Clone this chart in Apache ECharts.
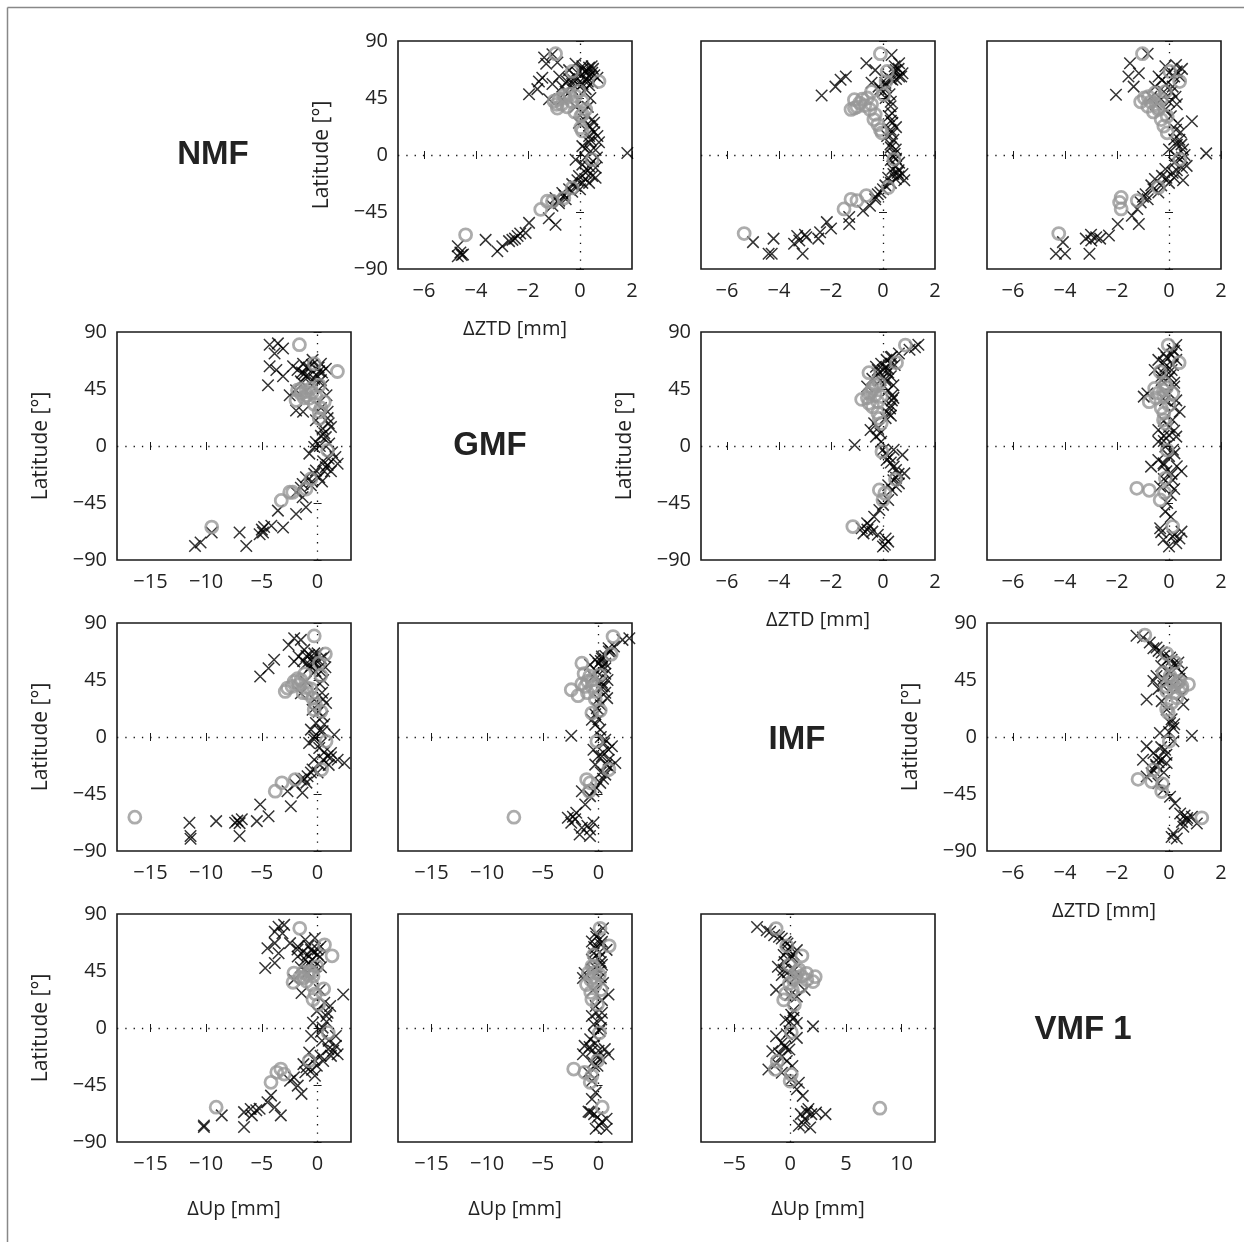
<!DOCTYPE html>
<html><head><meta charset="utf-8">
<script src="https://cdn.jsdelivr.net/npm/echarts@6/dist/echarts.min.js"></script>
<style>html,body{margin:0;padding:0;background:#fff}#c{width:1244px;height:1242px}</style>
</head><body><div id="c"></div>
<script>
// ---------- labels / ticks ----------
const mappingFunctions = ['NMF', 'GMF', 'IMF', 'VMF 1'];
const latTicks = [-90, -45, 0, 45, 90];
const ztdTicks = [-6, -4, -2, 0, 2];
const upTicks = [-15, -10, -5, 0];
const upTicksVMF = [-5, 0, 5, 10];

// ---------- data: [difference (mm), latitude (deg)] ----------
// ZTD NMF - GMF
const ztd_NMF_GMF_x = [[-1.06,79.5],[-1.38,77],[-0.87,73],[-1.3,72],[-1.45,61],[-1.58,58],[-1.64,52],[-1.96,48],[-1.06,56],[-0.68,54],[-0.42,67],[-0.17,72],[0.09,70],[0.35,69],[0.47,65],[0.22,60],[-0.04,57],[-0.3,56],[-0.55,50],[0.22,52],[0.47,57],[0.67,61],[-1.19,44],[0.09,33],[0.54,25.5],[0.47,20],[0.35,15],[0.67,15],[0.73,10],[0.35,10],[0.09,7],[0.41,3],[1.82,1.6],[-0.17,-3.7],[0.09,-7.6],[0.35,-9],[0.6,-10],[0.22,-14],[-0.04,-16.6],[0.47,-16.6],[0.09,-22],[-0.17,-24.6],[0.35,-22],[-0.42,-27],[-0.68,-30],[-0.94,-34],[-0.55,-35],[-1.06,-40],[-0.81,-38],[-0.94,-55],[-1.2,-50],[-1.96,-53.6],[-2.09,-61.5],[-2.4,-64],[-2.6,-67],[-2.73,-68],[-2.99,-72],[-3.18,-76],[-3.63,-67],[-4.7,-72],[-4.6,-77],[-4.5,-78.6],[-4.7,-80],[-0.42,60],[-0.17,62],[0.09,64],[0.35,62],[-0.3,52],[-0.68,44],[-0.17,38],[0.15,28],[-0.04,25.5],[0.35,23],[0.47,28],[0.2,66],[0.3,58],[0.0,54],[0.5,68],[0.6,4],[0.2,-2],[0.5,-5],[-0.3,-29],[-0.6,-32],
  [0.1,68],[0.3,66],[0.45,70],[0.55,63],[-0.1,65],[-0.25,59],[0.1,56],[0.35,55],[-0.5,58],[-0.8,62],[0.4,45],[0.3,38],[0.55,18],[0.4,12],[0.2,5],[0.65,-2],[0.3,-12],[0.6,-18],[0.2,-19],[-0.1,-20],[-0.3,-23],[0.0,-27],[-0.8,-36],[-2.5,-66],[-2.3,-62],[-4.55,-79]];
const ztd_NMF_GMF_o = [[-0.94,80],[-0.3,66],[0.73,58],[-0.55,45],[-0.81,44],[-1.0,42.5],[-0.87,37],[-0.17,46.5],[-0.04,50.5],[0.09,42.6],[0.22,36],[0.03,30.7],[0.03,21.5],[0.09,19],[0.47,-3.7],[-0.3,-26],[-0.62,-34],[-1.06,-36.5],[-1.26,-36.5],[-1.51,-43],[-4.4,-63],
  [-0.7,40],[-0.5,38],[-0.3,42],[-0.6,47],[-0.2,34],[0.1,32],[-0.4,48],[-0.9,40]];
// ZTD NMF - IMF
const ztd_NMF_IMF_x = [[0.33,79],[0.62,72.5],[0.49,67],[0.75,64.6],[0.62,62],[0.36,59.4],[0.09,57],[-0.17,54],[-0.44,57],[-0.64,72.5],[-0.3,67],[-1.43,62],[-1.63,59.4],[-1.83,54],[-2.36,47],[0.29,38.5],[0.23,30.6],[0.36,25.4],[0.29,20],[0.16,15],[0.29,8.4],[0.49,4.4],[0.36,-0.8],[0.62,-6],[0.36,-11],[0.56,-14],[0.82,-20],[0.49,-19],[0.09,-24],[-0.1,-29.6],[-0.3,-35],[-0.5,-40],[-0.77,-44],[-1.3,-49],[-1.3,-54.4],[-2.16,-53],[-2.49,-66],[-2.42,-61],[-2.95,-65],[-3.22,-67.5],[-3.42,-70],[-3.09,-78],[-4.21,-66],[-5.0,-68.8],[-4.28,-78],[-4.4,-78],[0.4,66],[0.5,60],[0.2,62],[0.0,50],[0.1,45],[0.3,42],[0.35,33],[0.4,12],[0.3,6],[0.5,-3],[0.5,-9],[0.6,-17],[0.3,-22],[0.0,-27],[-0.2,-31],
  [0.45,70],[0.6,68],[0.7,62],[0.3,60],[0.1,55],[-0.1,52],[0.25,48],[0.3,27],[0.5,22],[0.35,17],[0.45,1],[0.3,-4],[0.6,-12],[0.75,-15],[0.4,-15],[0.2,-18],[-0.3,-33],[-3.3,-64],[-3.0,-63],[-2.0,-58]];
const ztd_NMF_IMF_o = [[-0.1,80],[0.16,66],[0.12,58],[-0.44,50],[0.03,47.6],[-1.1,43.7],[-1.1,37],[-1.23,36],[-0.44,40],[-0.3,32],[-0.1,20],[-0.04,17.5],[0.42,-3.4],[0.2,-25.6],[-0.64,-32],[-1.0,-36],[-1.23,-35],[-1.5,-42.6],[-5.34,-62],
  [-0.9,41],[-0.7,39],[-0.8,44],[-0.5,36],[-0.6,45],[-1.0,38],[-0.35,28],[-0.2,24]];
// ZTD NMF - VMF1
const ztd_NMF_VMF_x = [[-0.82,80],[-1.5,72.5],[-1.16,64.6],[-1.56,62],[-1.36,54],[-2.04,47.6],[-0.14,70],[0.27,71],[0.41,62],[0.14,54],[-0.27,59],[-0.54,54],[-0.68,46],[-0.14,36],[0.07,30.6],[0.34,25],[0.88,26.7],[0.27,20],[0.2,12.3],[0.48,8.4],[0,4.4],[0.54,4.4],[1.43,1.3],[0.27,-0.8],[0.68,-8.6],[-0.14,-11],[0.14,-14],[0.54,-20],[-0.27,-16.5],[-0.54,-19],[-0.68,-24],[-0.41,-29.6],[-0.82,-35],[-1.09,-37.4],[-1.22,-42.6],[-1.43,-48],[-1.16,-54.4],[-1.97,-54.4],[-2.31,-63.6],[-2.65,-66],[-2.99,-67.5],[-3.2,-66],[-3.06,-78],[-4.0,-78],[-4.35,-78],[-4.08,-68.8],[0.2,62],[-0.1,56],[0.1,50],[-0.3,44],[0.3,40],[0.4,12],[0.5,-2],[0.3,-12],[0.0,-22],[-0.6,-27],[-0.9,-31],
  [0.0,65],[0.3,66],[0.5,68],[-0.4,62],[-0.2,50],[0.25,46],[-0.5,40],[0.0,42],[0.45,18],[0.3,8],[0.6,0],[0.2,-6],[0.5,-10],[-0.1,-18],[-0.3,-24],[0.2,-18],[-1.0,-33],[-2.8,-65],[-3.0,-63]];
const ztd_NMF_VMF_o = [[-1.02,80],[0.03,66],[0.41,58],[-0.14,50],[-0.54,49],[-0.95,45],[-1.09,42],[-0.82,38.5],[-0.41,36],[-0.07,30.6],[-0.2,22.8],[-0.07,17.5],[0.41,-3.4],[-0.41,-25.6],[-1.22,-36],[-1.84,-33.5],[-1.9,-37.4],[-1.84,-42.6],[-4.24,-62],
  [-0.7,42],[-0.5,40],[-0.8,46],[-0.3,44],[-0.6,34],[-0.3,28],[-0.45,38]];
// ZTD GMF - IMF
const ztd_GMF_IMF_x = [[1.23,78],[1.36,80],[1.02,76],[0.61,73],[0.34,70.5],[0.14,68],[-0.07,65],[-0.27,62.6],[0.2,61],[-0.2,57],[-0.41,53],[0.14,50.8],[-0.61,47],[0.2,44],[0.34,36],[0.27,29.7],[0.2,25.8],[-0.34,18],[-0.48,12.6],[-0.27,7.4],[-0.07,3.4],[-1.09,0.8],[0.41,-3],[0.75,-7],[0.14,-11],[0.41,-16.3],[0.82,-21.6],[0.61,-29.5],[0.34,-34.7],[0.2,-42.6],[0,-46.5],[-0.14,-50.5],[-0.34,-55.8],[-0.61,-61],[-0.82,-65],[-0.75,-69],[-0.41,-67.6],[0.07,-78],[0,-79.4],[0.2,-75.5],[0.3,70],[0.0,60],[0.3,55],[-0.1,52],[0.4,48],[0.3,32],[0.1,22],[0.1,-6],[0.3,-13],[0.5,-25],[0.2,-31],
  [0.3,65],[0.1,62],[0.45,64],[-0.2,60],[0.2,58],[0.1,53],[0.35,40],[0.4,38],[0.3,24],[-0.2,14],[-0.1,10],[0.0,-3],[0.25,-9],[0.5,-19],[0.6,-22],[0.4,-27],[0.5,-32],[-0.5,-63],[-0.6,-66],[-0.2,-70],[0.1,-73]];
const ztd_GMF_IMF_o = [[0.86,79.7],[0.52,65.8],[-0.54,57.9],[-0.14,49.4],[-0.41,44],[-0.54,41.5],[-0.82,36.8],[-0.54,33.7],[-0.07,39],[-0.14,21.8],[-0.07,17.9],[-0.04,-4.5],[0.48,-26.3],[-0.14,-34.7],[0.07,-37.3],[0,-42.6],[-1.16,-63.6],
  [-0.4,46],[-0.3,40],[-0.6,38],[-0.2,35],[-0.4,31],[-0.3,48],[-0.2,26]];
// ZTD GMF - VMF1
const ztd_GMF_VMF_x = [[0.28,79.7],[0.14,75.7],[-0.21,73],[-0.41,68],[0.28,68],[-0.14,62.6],[-0.55,60],[0.07,56],[-0.28,52],[-0.83,41.5],[-0.97,39],[0.28,36],[0.41,27],[0.14,20.5],[-0.41,12.6],[0,8.7],[0.28,7.4],[-0.41,3.4],[-0.14,-0.5],[0.21,-5.8],[-0.41,-11],[-0.69,-16.3],[-0.21,-13.7],[0.48,-20],[0.14,-26.8],[-0.34,-32],[0.07,-38.7],[-0.07,-45],[-0.14,-51.8],[0.07,-55.8],[-0.34,-65],[0.48,-67.6],[0.14,-71.5],[0.28,-76.8],[0,-79.4],[-0.21,-74],[0.1,72],[-0.2,66],[0.1,60],[-0.3,55],[0.2,47],[-0.1,40],[0.0,15],[-0.2,4],[0.0,-8],[-0.1,-20],[0.0,-30],
  [0.2,75],[-0.1,70],[0.15,64],[-0.25,58],[0.0,54],[0.2,50],[-0.15,36],[0.2,30],[-0.2,20],[0.2,12],[-0.2,8],[0.15,-3],[-0.2,-15],[0.3,-16],[0.1,-22],[-0.2,-26],[0.2,-34],[-0.3,-68],[0.2,-70],[0.4,-73]];
const ztd_GMF_VMF_o = [[-0.03,79.7],[0.39,65.8],[-0.34,58.6],[-0.14,49.4],[-0.55,45.5],[-0.21,44],[0.14,41.5],[-0.76,35],[0,32.3],[-0.21,20.5],[-0.14,17.9],[-0.07,-3.2],[-0.14,-25.5],[-1.24,-33.4],[-0.76,-35],[-0.17,-36.8],[-0.34,-42.6],[0.14,-63.6],
  [-0.4,42],[-0.2,39],[-0.5,38],[-0.1,46],[-0.3,30],[-0.2,26]];
// ZTD IMF - VMF1
const ztd_IMF_VMF_x = [[-1.25,80],[-1.0,78.6],[-0.74,74.6],[-0.48,70.7],[-0.28,66.7],[0.04,62.7],[0.36,58.8],[0.49,50.8],[-0.48,48.2],[-0.6,44.2],[-0.22,40.2],[-0.86,29.6],[-0.28,28.3],[0.55,25.7],[-0.09,21.7],[0.04,11.1],[0.17,7.1],[-0.35,3.2],[0.88,1],[0.17,-3.4],[-0.15,-10],[-0.86,-7.4],[-0.6,-12.7],[-1.0,-18],[-0.41,-16.7],[-0.09,-20.6],[-0.48,-23.3],[-0.67,-28.6],[-0.86,-31.2],[-0.41,-36.5],[-0.22,-41.8],[0.04,-47.1],[0.23,-52.4],[0.43,-60.4],[0.68,-65.6],[0.55,-70.9],[1.07,-68.3],[0.88,-63],[0.17,-76.2],[0.3,-80.2],[0.1,-78.9],[-0.4,68],[-0.1,60],[0.3,55],[-0.2,46],[0.3,38],[0.1,14],[-0.3,-8],[-0.4,-20],[-0.6,-26],
  [-0.6,70],[-0.2,64],[0.1,61],[0.2,58],[-0.3,56],[0.0,52],[0.4,46],[-0.1,44],[-0.4,38],[0.5,33],[0.2,10],[0.0,4],[-0.1,-14],[-0.3,-18],[-0.5,-22],[-0.2,-28],[0.6,-62],[0.7,-64],[0.5,-67]];
const ztd_IMF_VMF_o = [[-0.93,80.5],[-0.09,65.9],[0.23,58.8],[-0.22,50.8],[0.04,48.2],[0.3,42.9],[0.75,41.6],[0.49,37.6],[-0.09,36.3],[0.3,31],[-0.09,21.7],[-0.03,19.1],[0.01,-3.4],[-0.6,-25.9],[-1.19,-33.4],[-0.67,-35.2],[-0.25,-37],[-0.28,-43.1],[1.26,-63.8],
  [0.1,45],[0.2,40],[0.4,44],[-0.1,40],[0.2,35],[0.5,40],[0.1,27]];
// Up NMF - GMF
const up_NMF_GMF_x = [[-4.3,80],[-3.56,81],[-3.1,77],[-3.86,73],[-4.3,63],[-3.7,60],[-4.45,48],[-3.1,55],[-2.2,63],[-1.8,60],[-1.3,65],[-0.45,68],[0.3,65],[0.74,61],[0.15,59],[-1.04,55],[-1.5,51],[-1.93,44],[-2.5,40],[-1.93,28],[-1.3,27],[0.9,27],[-0.15,20.4],[1.2,15],[0.45,13.8],[0.74,7],[-0.15,3.2],[1.04,2],[-0.3,-0.8],[-0.74,-6],[1.6,-8.7],[1.8,-14],[0.74,-16.7],[-0.15,-19.3],[0.15,-24.6],[-1.04,-24.6],[-1.34,-30],[-1.93,-36.5],[-1.34,-40.5],[-1.04,-48.4],[-1.93,-53.7],[-3.56,-51],[-3.1,-64.3],[-4.15,-63],[-4.9,-68.3],[-5.2,-69.6],[-7.0,-68.3],[-6.4,-78.9],[-9.5,-68.3],[-10.5,-76.2],[-11.0,-78.9],[-0.8,62],[0.4,58],[-0.3,53],[0.5,48],[-1.4,58],[0.9,22],[0.5,-12],[1.2,-20],[0.4,-28],[-0.6,-31],[1.0,-10],[0.3,8],
  [-1.0,62],[-0.5,64],[0.1,62],[-1.2,57],[-0.8,55],[-0.1,56],[0.3,52],[-0.5,48],[0.8,40],[0.3,30],[1.0,18],[0.6,10],[0.2,0],[1.3,-5],[0.9,-15],[0.6,-20],[-0.3,-22],[-0.5,-28],[-1.5,-33],[-5.0,-66],[-4.8,-64]];
const up_NMF_GMF_o = [[-1.63,80],[-0.3,65],[1.78,58.8],[0.15,48],[-0.6,45.5],[-1.04,43],[-1.5,41.5],[-1.93,36],[-0.74,37.6],[-0.15,39],[0.6,35],[0.15,27],[0.15,21.7],[0.9,-3.4],[-0.6,-26],[-1.04,-34],[-2.23,-36.5],[-2.5,-36.5],[-3.26,-43],[-9.5,-64],
  [-1.5,45],[-1.0,40],[-0.5,42],[-1.8,44],[-0.3,33],[-1.2,38],[0.3,30]];
// Up NMF - IMF
const up_NMF_IMF_x = [[-2.1,78],[-1.5,76.7],[-2.6,72.7],[-1.2,68.8],[-1.7,63.5],[-2.1,59.6],[-3.9,61],[-4.4,54.3],[-5.15,47.8],[-0.76,64.8],[0,66],[0.6,63.5],[-0.3,58.3],[-0.76,54.3],[0.3,51.7],[-1.06,43.8],[-1.5,34.6],[-0.3,29.4],[0.76,26.8],[-0.45,21.5],[0.45,16.3],[-0.15,11],[-0.6,5.8],[0.45,4.5],[-0.3,0.5],[1.5,1.8],[-0.76,-4.7],[0.15,-8.7],[1.2,-12.6],[0.9,-15.2],[1.8,-17.9],[2.4,-20.5],[-0.3,-17.9],[-0.45,-25.7],[-0.9,-31],[-1.5,-33.6],[-2.0,-37.5],[-2.7,-42.8],[-1.36,-44],[-2.4,-54.6],[-5.15,-53.3],[-4.4,-62.5],[-5.45,-66.4],[-6.8,-65],[-7.4,-67.7],[-7.0,-78.2],[-9.1,-66.4],[-11.5,-67.7],[-11.4,-78.2],[-11.4,-80.3],[-0.5,60],[0.2,55],[-1.0,58],[0.5,45],[0.4,35],[0.6,10],[0.3,-5],[1.0,-22],[0.0,-28],[-1.0,-36],
  [-1.0,64],[-0.3,66],[0.3,62],[-0.2,61],[-1.3,60],[-0.6,56],[-0.2,52],[0.7,55],[0.2,42],[0.5,30],[0.1,20],[0.2,5],[-0.3,-2],[0.6,-12],[0.5,-18],[1.2,-16],[0.2,-22],[-0.6,-28],[-1.2,-33],[-7.2,-66],[-7.0,-68]];
const up_NMF_IMF_o = [[-0.3,79.8],[0.7,65.6],[0.15,58.3],[0.3,48.6],[-1.15,49.9],[-2.1,43.8],[-2.7,38.6],[-2.9,36],[-1.67,41.2],[-0.9,34.6],[-0.45,30.7],[-0.3,21.5],[0.3,20.2],[0.76,-3.4],[0.36,-25.7],[-2.0,-33.6],[-3.2,-36.2],[-3.8,-42.8],[-16.4,-63.3],
  [-1.5,45],[-2.3,40],[-1.0,39],[-1.8,46],[-0.6,38],[-1.3,35],[-0.2,26]];
// Up GMF - IMF
const up_GMF_IMF_x = [[2.76,78],[2.15,76.7],[1.38,71.4],[0.92,67.5],[0.3,63.5],[-0.3,61],[-0.77,57],[0.6,54.3],[-0.46,47.8],[0.3,39.9],[0.77,30.7],[-0.15,22.8],[-0.6,13.6],[-0.3,9.7],[0.15,5.8],[-2.45,1],[0.6,-2.1],[1.2,-7.3],[-0.46,-10],[0.3,-15.2],[1.5,-20.5],[-0.3,-21.8],[0.6,-29.7],[0.15,-36.2],[-0.46,-42.8],[-0.77,-46.7],[-1.5,-42.8],[-1.2,-53.3],[-2.0,-59.8],[-2.76,-63.8],[-2.45,-67.7],[-1.5,-71.7],[-1.7,-76.9],[-0.77,-78.2],[-0.77,-73],[-0.46,-67.7],[0.9,70],[0.2,60],[0.6,58],[-0.2,52],[0.8,45],[0.6,35],[0.2,25],[0.5,-5],[0.4,-12],[1.0,-24],[0.4,-33],
  [1.1,68],[0.6,64],[0.3,62],[0.0,58],[0.3,55],[0.6,50],[0.3,43],[0.5,40],[0.0,30],[-0.3,18],[0.0,14],[0.2,0],[0.9,-10],[0.0,-15],[0.9,-18],[0.7,-22],[0.2,-28],[-0.2,-40],[-2.3,-63],[-2.1,-65],[-1.0,-70]];
const up_GMF_IMF_o = [[1.3,79.3],[1.13,65.4],[-1.5,58.3],[0.1,49.1],[-0.6,45.2],[-1.2,39.9],[-2.45,37.3],[-1.84,32.6],[-0.3,36],[-0.6,18.9],[0.15,21],[-0.15,-3.4],[0.92,-25.7],[-1.07,-33.6],[-0.77,-36.2],[-0.83,-42.8],[-7.6,-63.3],
  [-1.0,44],[-0.6,40],[-1.5,42],[-0.8,48],[-1.0,35],[-0.3,30],[-1.3,50]];
// Up NMF - VMF1
const up_NMF_VMF_x = [[-3.5,80],[-3.0,81.4],[-3.84,76],[-3.15,74.8],[-3.84,67],[-4.5,63],[-3.5,59],[-4.7,47.4],[-3.84,51.3],[-2.47,67],[-1.78,64.4],[-1.1,69.6],[-0.24,71],[0.27,64.4],[-0.58,61.7],[-1.78,56.5],[-1.1,54],[-0.24,48.7],[-2.12,38.2],[-1.44,27.7],[2.3,26.4],[1.13,17.3],[-0.07,13.3],[0.79,9.4],[-0.41,4.2],[0.45,0.3],[-0.58,-6.3],[1.64,-6.3],[1.64,-14.1],[0.96,-16.7],[1.8,-20.7],[0.27,-22],[-0.75,-19.4],[-1.27,-28.5],[-0.07,-29.8],[-0.24,-37.7],[-1.1,-35],[-2.12,-39],[-1.78,-45.5],[-1.44,-52],[-2.47,-41.6],[-4.18,-53.4],[-4.5,-58.6],[-5.2,-63.8],[-5.9,-69],[-6.6,-66.4],[-6.6,-78.2],[-3.3,-69],[-3.84,-62.5],[-8.6,-69],[-10.2,-78.2],[-10.2,-77],[-1.3,60],[0.0,58],[-0.5,54],[-1.5,48],[0.9,12],[0.4,-10],[1.2,-22],[-0.3,-25],[-1.0,-31],
  [-1.8,62],[-0.8,65],[0.0,62],[-0.9,58],[-0.4,60],[0.2,56],[-0.8,51],[0.3,48],[-0.9,44],[0.2,30],[0.6,20],[0.8,5],[0.3,-3],[1.0,-10],[1.4,-18],[0.5,-26],[-0.5,-33],[-5.5,-65],[-6.0,-64]];
const up_NMF_VMF_o = [[-1.6,78.7],[0.62,65.7],[1.3,57],[-0.07,48.7],[-0.75,44.7],[-2.12,43.4],[-2.2,36.1],[-1.27,39.5],[-0.41,40.8],[0.55,30.9],[-0.41,22.5],[0.1,18.6],[0.96,-3.7],[-0.75,-25.9],[-3.3,-32.4],[-3.0,-36.4],[-3.66,-35],[-4.18,-42.9],[-9.1,-62.5],
  [-1.3,44],[-0.9,42],[-1.6,40],[-0.5,44],[-1.0,37],[-0.5,34],[-0.2,27]];
// Up GMF - VMF1
const up_GMF_VMF_x = [[0.4,78.7],[-0.26,74.8],[-0.6,68.3],[0.23,65.7],[0.72,61.7],[-0.43,59],[0.07,55.2],[-1.25,43.4],[-1.4,39.5],[0.4,35.6],[0.89,26.4],[-0.26,17.3],[-0.6,9.4],[0.23,6.8],[-0.43,2.9],[0.07,-2.4],[-0.75,-8.9],[-1.25,-14.1],[-0.6,-18],[0.56,-16.7],[0.89,-20.7],[-1.4,-20.7],[-0.1,-29.8],[-0.92,-35],[-0.6,-41.6],[-0.26,-50.8],[-0.6,-56],[-0.75,-66.4],[-0.1,-70.4],[0.72,-71.7],[0.07,-76.9],[0.72,-79.5],[-0.26,-79.5],[0.1,70],[-0.3,63],[0.3,50],[-0.5,46],[0.2,40],[0.3,12],[-0.3,-12],[0.2,-24],[-0.4,-30],
  [-0.2,72],[0.3,68],[-0.4,64],[0.1,60],[-0.6,54],[0.2,52],[-0.3,48],[0.1,45],[-0.5,30],[0.3,22],[-0.2,12],[0.2,0],[-0.4,-6],[-0.8,-15],[0.0,-18],[-0.2,-22],[-0.5,-27],[-0.9,-66],[-0.4,-68],[0.3,-74]];
const up_GMF_VMF_o = [[0.13,78.7],[0.95,64.9],[-0.43,57.8],[-0.6,48.7],[-0.92,43.4],[0.07,42.1],[-1.08,34.3],[0.23,30.3],[-0.6,22.5],[-0.1,18.6],[0.07,-3.7],[-0.1,-25.9],[-2.23,-32.4],[-1.25,-35],[-0.6,-37.7],[-0.75,-42.9],[0.33,-62.5],
  [-0.5,40],[-0.3,44],[-0.7,38],[-0.4,48],[-0.3,34],[-0.7,28]];
// Up IMF - VMF1
const up_IMF_VMF_x = [[-2.97,79.8],[-2.1,77.2],[-1.43,73.2],[-0.75,70.6],[-0.24,66.7],[0.6,61.5],[-0.58,57.6],[0.1,54.9],[-1.1,48.4],[-0.75,41.9],[-1.26,30.1],[1.3,30.1],[0.6,24.9],[0.1,10.5],[-0.41,6.5],[0.6,3.9],[2.05,1.3],[-0.07,-2.6],[0.6,-7.8],[-1.26,-6.5],[-0.75,-11.8],[-1.6,-18.3],[-0.07,-17],[-0.75,-22.2],[-1.95,-32.7],[-0.75,-35.3],[0.1,-40.5],[0.78,-43.2],[0.6,-48.4],[1.13,-53.6],[1.64,-64],[2.32,-66.7],[3.17,-68],[0.96,-68],[1.3,-71.9],[0.78,-77.2],[1.8,-78.5],[-0.2,62],[0.3,58],[-0.5,52],[0.4,46],[-0.3,38],[0.3,8],[-0.5,-14],[-0.3,-26],[0.2,-30],
  [-1.8,76],[-1.0,72],[-0.4,68],[0.0,64],[-0.3,60],[0.2,56],[-0.6,46],[-0.2,44],[0.5,40],[0.0,26],[0.3,14],[0.0,5],[-0.3,-5],[-0.4,-16],[-1.0,-20],[-1.2,-28],[1.5,-66],[1.9,-68],[1.2,-76]];
const up_IMF_VMF_o = [[-1.26,78.5],[-0.3,64.9],[1.06,57],[-0.07,49.7],[0.6,44.5],[1.47,43.2],[2.25,40.5],[2.05,36.6],[0.96,32.7],[-0.07,35.3],[-0.58,22.2],[0.38,18.3],[0.1,-3.4],[-1.16,-26.2],[-1.33,-32.7],[0.1,-36.6],[0,-41.9],[8.05,-63.3],
  [0.5,40],[1.0,41],[0.3,38],[1.5,38],[0.8,46],[0.2,30],[-0.4,27]];

// ---------- layout ----------
const colLeft = [117, 398, 701, 987];
const rowTop = [41, 332, 623, 914];
const W = 234, H = 228;
const FONT = '"Open Sans", "DejaVu Sans", sans-serif';

const panels = [
  {r:0, c:1, kind:'ztd', x:ztd_NMF_GMF_x, o:ztd_NMF_GMF_o, ylab:true, xname:'ΔZTD [mm]'},
  {r:0, c:2, kind:'ztd', x:ztd_NMF_IMF_x, o:ztd_NMF_IMF_o, ylab:false, xname:''},
  {r:0, c:3, kind:'ztd', x:ztd_NMF_VMF_x, o:ztd_NMF_VMF_o, ylab:false, xname:''},
  {r:1, c:0, kind:'up',  x:up_NMF_GMF_x, o:up_NMF_GMF_o, ylab:true, xname:''},
  {r:1, c:2, kind:'ztd', x:ztd_GMF_IMF_x, o:ztd_GMF_IMF_o, ylab:true, xname:'ΔZTD [mm]'},
  {r:1, c:3, kind:'ztd', x:ztd_GMF_VMF_x, o:ztd_GMF_VMF_o, ylab:false, xname:''},
  {r:2, c:0, kind:'up',  x:up_NMF_IMF_x, o:up_NMF_IMF_o, ylab:true, xname:''},
  {r:2, c:1, kind:'up',  x:up_GMF_IMF_x, o:up_GMF_IMF_o, ylab:false, xname:''},
  {r:2, c:3, kind:'ztd', x:ztd_IMF_VMF_x, o:ztd_IMF_VMF_o, ylab:true, xname:'ΔZTD [mm]'},
  {r:3, c:0, kind:'up',  x:up_NMF_VMF_x, o:up_NMF_VMF_o, ylab:true, xname:'ΔUp [mm]'},
  {r:3, c:1, kind:'up',  x:up_GMF_VMF_x, o:up_GMF_VMF_o, ylab:false, xname:'ΔUp [mm]'},
  {r:3, c:2, kind:'upv', x:up_IMF_VMF_x, o:up_IMF_VMF_o, ylab:false, xname:'ΔUp [mm]'}
];
const ranges = {ztd:[-7, 2, ztdTicks], up:[-18, 3, upTicks], upv:[-8, 13, upTicksVMF]};

const minus = v => String(v).replace('-', '\u2212');
const tickStyle = {color:'#1a1a1a', width:1};
const grids = [], xAxes = [], yAxes = [], series = [];

panels.forEach((p, i) => {
  const [mn, mx, ticks] = ranges[p.kind];
  grids.push({left: colLeft[p.c], top: rowTop[p.r], width: W, height: H,
    show: true, borderColor: '#1a1a1a', borderWidth: 1.6, backgroundColor: 'transparent'});
  const gapX = p.kind === 'ztd' ? 50 : 57;
  xAxes.push({type:'value', gridIndex:i, position:'bottom', min:mn, max:mx,
    axisLine:{show:false}, splitLine:{show:false},
    axisTick:{show:true, inside:true, length:4, customValues:ticks, lineStyle:tickStyle},
    axisLabel:{show:true, customValues:ticks, formatter:minus, fontFamily:FONT, fontSize:20, color:'#222', margin:12},
    name:p.xname, nameLocation:'middle', nameGap:gapX,
    nameTextStyle:{fontFamily:FONT, fontSize:20, color:'#222'}});
  xAxes.push({type:'value', gridIndex:i, position:'top', min:mn, max:mx,
    axisLine:{show:false}, splitLine:{show:false},
    axisTick:{show:true, inside:true, length:4, customValues:ticks, lineStyle:tickStyle},
    axisLabel:{show:false}});
  yAxes.push({type:'value', gridIndex:i, position:'left', min:-90, max:90, interval:45,
    axisLine:{show:false}, splitLine:{show:false},
    axisTick:{show:true, inside:true, length:4, lineStyle:tickStyle},
    axisLabel:{show:p.ylab, formatter:minus, fontFamily:FONT, fontSize:20, color:'#222', margin:10},
    name:p.ylab ? 'Latitude [°]' : '', nameLocation:'middle', nameGap:65,
    nameTextStyle:{fontFamily:FONT, fontSize:21, color:'#222'}});
  yAxes.push({type:'value', gridIndex:i, position:'right', min:-90, max:90, interval:45,
    axisLine:{show:false}, splitLine:{show:false},
    axisTick:{show:true, inside:true, length:4, lineStyle:tickStyle},
    axisLabel:{show:false}});
  series.push({type:'scatter', xAxisIndex:2*i, yAxisIndex:2*i, data:p.x, z:2,
    symbol:'path://M0 0L10 10M10 0L0 10', symbolSize:11.5,
    itemStyle:{color:'rgba(0,0,0,0)', borderColor:'#000', borderWidth:1.5},
    silent:true,
    markLine:{silent:true, symbol:['none','none'], animation:false,
      label:{show:false}, emphasis:{disabled:true},
      lineStyle:{color:'#111', width:1.3, type:[1.3, 7]},
      data:[{yAxis:0}, {xAxis:0}]}});
  series.push({type:'scatter', xAxisIndex:2*i, yAxisIndex:2*i, data:p.o, z:3,
    symbol:'circle', symbolSize:12, silent:true,
    itemStyle:{color:'rgba(0,0,0,0)', borderColor:'#979797', borderWidth:2.8}});
});

const diagPos = [[213,155],[490,446],[797,740],[1083,1030]];
const graphics = mappingFunctions.map((t, k) => ({
  type:'text', x:diagPos[k][0], y:diagPos[k][1], silent:true,
  style:{text:t, font:'bold 33px "Liberation Sans", Arial, sans-serif', fill:'#222',
    textAlign:'center', textVerticalAlign:'middle', align:'center', verticalAlign:'middle'}
}));
graphics.push({type:'line', silent:true, shape:{x1:7.5, y1:7.5, x2:1244, y2:7.5}, style:{stroke:'#888', lineWidth:1.5}});
graphics.push({type:'line', silent:true, shape:{x1:7.5, y1:7.5, x2:7.5, y2:1242}, style:{stroke:'#888', lineWidth:1.5}});

const chart = echarts.init(document.getElementById('c'), null, {renderer:'canvas'});
chart.setOption({animation:false, backgroundColor:'#fff', grid:grids, xAxis:xAxes, yAxis:yAxes, series:series, graphic:graphics});
</script></body></html>
